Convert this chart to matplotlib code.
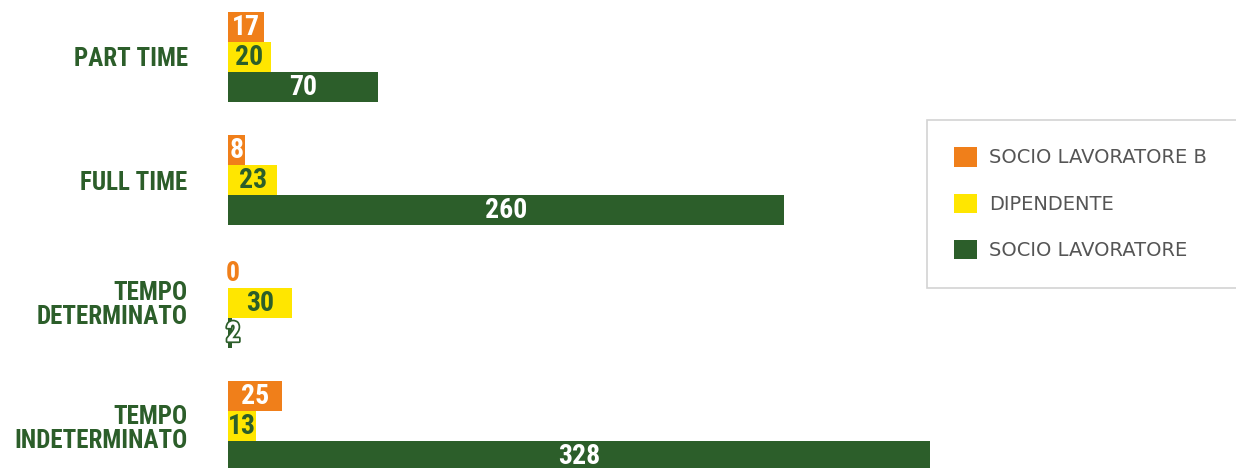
import numpy as np
import matplotlib
matplotlib.use('Agg')
import matplotlib.pyplot as plt
import matplotlib.patheffects as pe
from matplotlib import font_manager

# dati
categorie = ['PART TIME', 'FULL TIME', 'TEMPO\nDETERMINATO', 'TEMPO\nINDETERMINATO']
socio_b = [17, 8, 0, 25]
dipendente = [20, 23, 30, 13]
socio = [70, 260, 2, 328]
serie_nomi = ['SOCIO LAVORATORE B', 'DIPENDENTE', 'SOCIO LAVORATORE']

arancio = '#F07F1A'
giallo = '#FFE600'
verde = '#2C5E2A'

# font stretto se c'è, altrimenti Liberation Sans
nomi_font = {f.name for f in font_manager.fontManager.ttflist}
stretto = None
for nome in ['Liberation Sans Narrow', 'DejaVu Sans Condensed', 'Roboto Condensed',
             'Open Sans Condensed']:
    if nome in nomi_font:
        stretto = nome
        break
if stretto:
    font_num = [stretto, 'DejaVu Sans']
    size_num, size_cat = 20, 18
else:
    font_num = ['Liberation Sans', 'DejaVu Sans']
    size_num, size_cat = 17, 16

W, H = 1236, 468
fig = plt.figure(figsize=(W / 100, H / 100), dpi=100)
ax = fig.add_axes([228 / W, 0, 1 - 228 / W, 1])

px_unit = 2.14  # pixel per unità
ax.set_xlim(0, (W - 228) / px_unit)
ax.set_ylim(H / 30, 0)

centri = 1.9 + 4.1 * np.arange(len(categorie))

b1 = ax.barh(centri - 1, socio_b, height=1, color=arancio, label=serie_nomi[0])
b2 = ax.barh(centri, dipendente, height=1, color=giallo, label=serie_nomi[1])
b3 = ax.barh(centri + 1, socio, height=1, color=verde, label=serie_nomi[2])

def etichette(valori, y, colore):
    for v, yy in zip(valori, y):
        c = colore
        eff = None
        if v == 0:
            c = arancio
        elif v < 5:
            c = 'white'
            eff = [pe.withStroke(linewidth=2.5, foreground=verde)]
        t = ax.text(max(v / 2, 2.4), yy + 0.03, str(v), ha='center', va='center',
                    color=c, fontsize=size_num, fontweight='bold', family=font_num)
        if eff:
            t.set_path_effects(eff)

etichette(socio_b, centri - 1, 'white')
etichette(dipendente, centri, verde)
etichette(socio, centri + 1, 'white')

ax.set_yticks(centri)
ax.set_yticklabels(categorie, fontsize=size_cat, fontweight='bold', color=verde,
                   family=font_num, linespacing=1.0)
ax.tick_params(axis='y', length=0, pad=29)
ax.set_xticks([])
for s in ax.spines.values():
    s.set_visible(False)

leg = fig.legend(handles=[b1, b2, b3], loc='upper left',
                 bbox_to_anchor=(927 / W, 1 - 120 / H, 0.3, 0), mode='expand',
                 frameon=True, fancybox=False, edgecolor='#c8c8c8',
                 handlelength=1.15, handleheight=1.15, labelspacing=1.35,
                 borderpad=1.4, borderaxespad=0, handletextpad=0.65,
                 prop={'family': ['DejaVu Sans'], 'size': 14})
for t in leg.get_texts():
    t.set_color('#555555')
leg.get_frame().set_linewidth(1.2)

plt.savefig('out.png', dpi=100)
plt.close()
